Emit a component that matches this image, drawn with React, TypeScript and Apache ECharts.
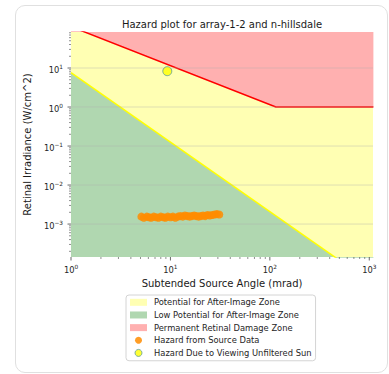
import React, { useEffect, useRef } from 'react';
import * as echarts from 'echarts';

const titleText = 'Hazard plot for array-1-2 and n-hillsdale';
const xAxisName = 'Subtended Source Angle (mrad)';
const yAxisName = 'Retinal Irradiance (W/cm^2)';

const angleTicks = [1, 10, 100, 1000];
const irradianceTicks = [0.001, 0.01, 0.1, 1, 10];
const angleRange = [1, 1090];
const irradianceRange = [1.43e-4, 83.8];

const damageAngle = [1, 115, 1100];
const damageIrradiance = [115, 1, 1];
const afterImageAngle = [1, 1100];
const afterImageIrradiance = [7.6, 2.9e-5];

const sourceAngle = [5.1, 5.4, 5.8, 6.1, 6.4, 6.8, 7.2, 7.6, 8.0, 8.5, 8.9, 9.4, 10.0, 10.6, 11.2, 11.9, 12.6, 13.3, 14.0, 14.8, 15.6, 16.4, 17.3, 18.2, 19.2, 20.2, 21.3, 22.4, 23.6, 24.9, 26.3, 27.8, 29.3, 31.0];
const sourceIrradiance = [1.55e-3, 1.45e-3, 1.55e-3, 1.5e-3, 1.45e-3, 1.55e-3, 1.5e-3, 1.45e-3, 1.55e-3, 1.5e-3, 1.45e-3, 1.55e-3, 1.5e-3, 1.55e-3, 1.45e-3, 1.55e-3, 1.6e-3, 1.55e-3, 1.65e-3, 1.6e-3, 1.55e-3, 1.6e-3, 1.65e-3, 1.6e-3, 1.55e-3, 1.6e-3, 1.65e-3, 1.6e-3, 1.7e-3, 1.65e-3, 1.7e-3, 1.75e-3, 1.8e-3, 1.75e-3];
const sunAngle = [9.3];
const sunIrradiance = [8.3];

const zoneNames = ['Potential for After-Image Zone', 'Low Potential for After-Image Zone', 'Permanent Retinal Damage Zone'];
const pointNames = ['Hazard from Source Data', 'Hazard Due to Viewing Unfiltered Sun'];

const FONT = 'DejaVu Sans';
const YELLOW_FILL = '#ffffb3';
const GREEN_FILL = '#b0d7b0';
const RED_FILL = '#ffb0b0';
const ORANGE = '#ff8c00';
const SUN_EDGE = '#5b9aa0';

const zip = (a: number[], b: number[]) => a.map((v, i) => [v, b[i]]);

const minorOf = (majors: number[], lo: number, hi: number) => {
  const out: number[] = [];
  for (const m of [majors[0] / 10, ...majors]) {
    for (let k = 2; k < 10; k++) {
      const v = m * k;
      if (v > lo && v < hi) out.push(v);
    }
  }
  return out;
};

const powLabel = (v: number) => {
  const l = Math.log10(v);
  const e = Math.round(l);
  if (Math.abs(l - e) > 1e-6) return '';
  const s = e < 0 ? '\u2212' + -e : String(e);
  return `{b|10}{s|${s}}`;
};

const labelRich = {
  b: { fontSize: 8.3, fontFamily: FONT, color: '#262626', verticalAlign: 'bottom', lineHeight: 12 },
  s: { fontSize: 5.8, fontFamily: FONT, color: '#262626', verticalAlign: 'bottom', lineHeight: 12, padding: [0, 0, 4, 0] },
};

export default function App() {
  const ref = useRef<HTMLDivElement>(null);
  useEffect(() => {
    if (!ref.current) return;
    const chart = echarts.init(ref.current, undefined, { renderer: 'svg' });

    const tickItems: number[][] = [];
    angleTicks.forEach((v) => tickItems.push([v, irradianceRange[0], 1]));
    minorOf(angleTicks, angleRange[0], angleRange[1]).forEach((v) => tickItems.push([v, irradianceRange[0], 0]));
    irradianceTicks.forEach((v) => tickItems.push([angleRange[0], v, 3]));
    minorOf(irradianceTicks, irradianceRange[0], irradianceRange[1]).forEach((v) => tickItems.push([angleRange[0], v, 2]));

    chart.setOption({
      animation: false,
      textStyle: { fontFamily: FONT },
      graphic: [
        {
          type: 'text',
          x: 222,
          y: 24,
          style: { text: titleText, fontSize: 10, fontFamily: FONT, fill: '#1a1a1a', textAlign: 'center', textVerticalAlign: 'middle' },
        },
      ],
      grid: { left: 71, right: 16, top: 32, bottom: 117, containLabel: false },
      xAxis: {
        type: 'log',
        logBase: 10,
        min: angleRange[0],
        max: angleRange[1],
        name: xAxisName,
        nameLocation: 'middle',
        nameGap: 19,
        nameTextStyle: { fontSize: 10, fontFamily: FONT, color: '#1a1a1a' },
        axisLine: { show: false },
        axisTick: { show: false },
        splitLine: { show: false },
        axisLabel: { formatter: powLabel, rich: labelRich, margin: 5, showMinLabel: true, showMaxLabel: true },
      },
      yAxis: {
        type: 'log',
        logBase: 10,
        min: irradianceRange[0],
        max: irradianceRange[1],
        name: yAxisName,
        nameLocation: 'middle',
        nameGap: 30,
        nameTextStyle: { fontSize: 10, fontFamily: FONT, color: '#1a1a1a' },
        axisLine: { show: false },
        axisTick: { show: false },
        splitLine: { show: false },
        axisLabel: { formatter: powLabel, rich: labelRich, margin: 8 },
      },
      legend: {
        orient: 'vertical',
        left: 126,
        top: 295,
        padding: [1, 4, 1.5, 4],
        itemGap: 0,
        itemWidth: 17,
        itemHeight: 7,
        selectedMode: false,
        backgroundColor: '#ffffff',
        borderColor: '#d4d4d4',
        borderWidth: 1,
        borderRadius: 3,
        textStyle: { fontSize: 8.35, fontFamily: FONT, color: '#262626', lineHeight: 12.65, padding: [0, 0, 0, 2] },
        data: [
          { name: zoneNames[0], icon: 'rect', itemStyle: { color: YELLOW_FILL, borderWidth: 0 } },
          { name: zoneNames[1], icon: 'rect', itemStyle: { color: GREEN_FILL, borderWidth: 0 } },
          { name: zoneNames[2], icon: 'rect', itemStyle: { color: RED_FILL, borderWidth: 0 } },
          { name: pointNames[0], icon: 'circle', itemStyle: { color: ORANGE, borderWidth: 0 } },
          { name: pointNames[1], icon: 'circle', itemStyle: { color: '#ffff00', borderColor: SUN_EDGE, borderWidth: 1 } },
        ],
      },
      series: [
        {
          name: zoneNames[0],
          type: 'line',
          z: 1,
          symbol: 'none',
          silent: true,
          data: zip(damageAngle, damageIrradiance),
          lineStyle: { width: 0, color: YELLOW_FILL },
          itemStyle: { color: YELLOW_FILL },
          areaStyle: { origin: 'start', color: YELLOW_FILL, opacity: 1 },
        },
        {
          name: zoneNames[1],
          type: 'line',
          z: 2,
          symbol: 'none',
          silent: true,
          data: zip(afterImageAngle, afterImageIrradiance),
          lineStyle: { width: 1.5, color: '#ffff00' },
          itemStyle: { color: GREEN_FILL },
          areaStyle: { origin: 'start', color: GREEN_FILL, opacity: 1 },
        },
        {
          name: zoneNames[2],
          type: 'line',
          z: 2,
          symbol: 'none',
          silent: true,
          data: zip(damageAngle, damageIrradiance),
          lineStyle: { width: 1.5, color: '#ff0000' },
          itemStyle: { color: RED_FILL },
          areaStyle: { origin: 'end', color: RED_FILL, opacity: 1 },
        },
        {
          name: 'axes',
          type: 'custom',
          z: 3,
          silent: true,
          clip: false,
          data: tickItems,
          encode: { x: 0, y: 1 },
          renderItem: (params: any, api: any) => {
            const kind = api.value(2);
            const p = api.coord([api.value(0), api.value(1)]);
            if (kind === 0 || kind === 1) {
              const len = kind === 1 ? 3.5 : 2;
              return {
                type: 'line',
                shape: { x1: p[0], y1: p[1], x2: p[0], y2: p[1] + len },
                style: { stroke: '#444', lineWidth: kind === 1 ? 0.8 : 0.6 },
              };
            }
            const len = kind === 3 ? 3.5 : 2;
            const children: any[] = [
              {
                type: 'line',
                shape: { x1: p[0] - len, y1: p[1], x2: p[0], y2: p[1] },
                style: { stroke: '#444', lineWidth: kind === 3 ? 0.8 : 0.6 },
              },
            ];
            if (kind === 3) {
              const q = api.coord([angleRange[1], api.value(1)]);
              children.push({
                type: 'line',
                shape: { x1: p[0], y1: p[1], x2: q[0], y2: q[1] },
                style: { stroke: 'rgba(176,176,176,0.5)', lineWidth: 0.8 },
              });
            }
            return { type: 'group', children };
          },
        },
        {
          name: pointNames[0],
          type: 'scatter',
          z: 4,
          symbolSize: 8,
          data: zip(sourceAngle, sourceIrradiance),
          itemStyle: { color: ORANGE, opacity: 0.85 },
        },
        {
          name: pointNames[1],
          type: 'scatter',
          z: 5,
          symbolSize: 9,
          data: zip(sunAngle, sunIrradiance),
          itemStyle: { color: '#ffff00', borderColor: SUN_EDGE, borderWidth: 1 },
        },
      ],
    });
    return () => chart.dispose();
  }, []);

  return (
    <div style={{ position: 'absolute', left: 0, top: 0, width: 389, height: 374, background: '#fff' }}>
      <div
        style={{
          position: 'absolute',
          left: 15,
          top: 5,
          width: 373,
          height: 368,
          boxSizing: 'border-box',
          border: '1.5px solid #e0e0e0',
          borderRadius: 10,
        }}
      />
      <div ref={ref} style={{ position: 'absolute', left: 0, top: 0, width: 389, height: 374 }} />
    </div>
  );
}
